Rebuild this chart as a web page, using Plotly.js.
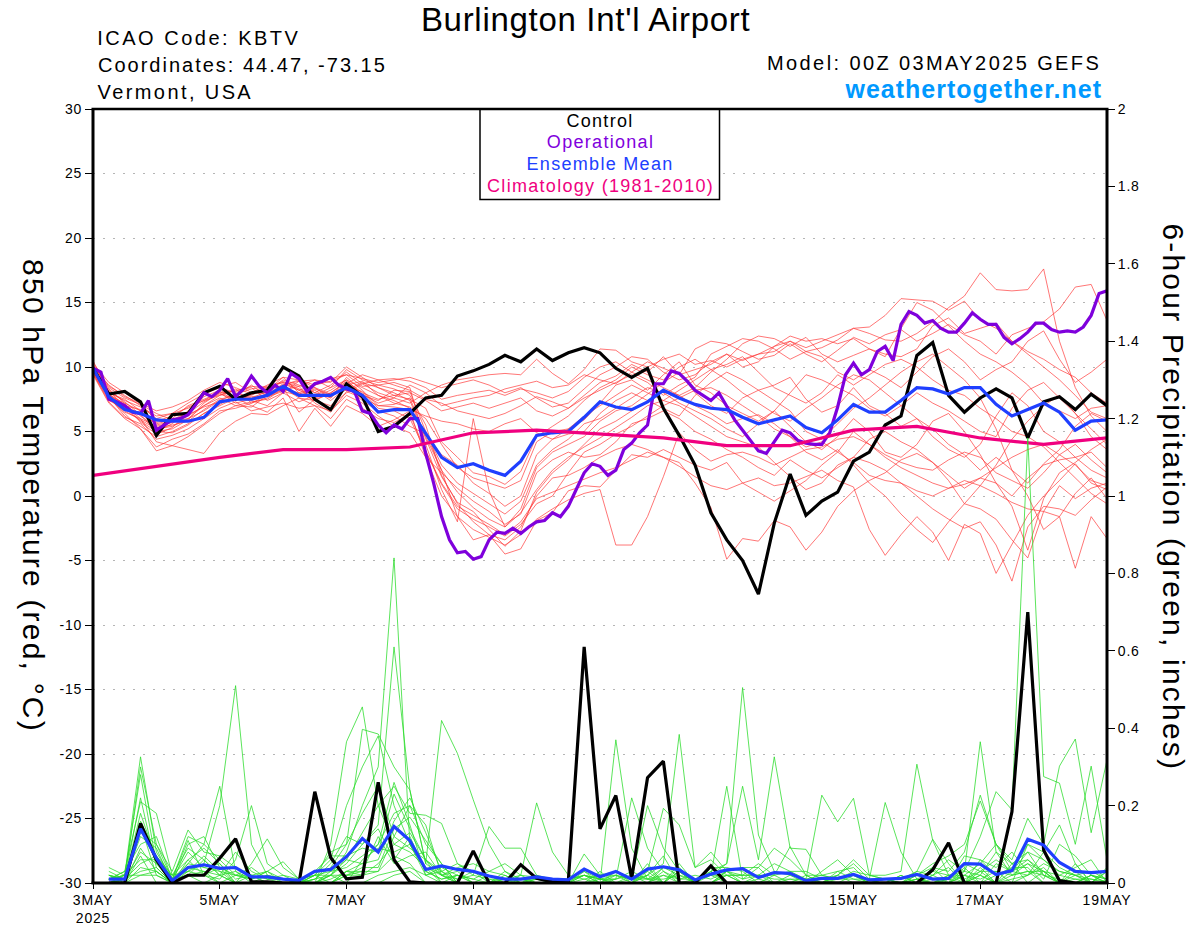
<!DOCTYPE html>
<html><head><meta charset="utf-8">
<script src="https://cdn.plot.ly/plotly-3.0.1.min.js"></script>
<style>html,body{margin:0;padding:0;background:#fff}#chart{width:1200px;height:927px}
.xtick text,.ytick text,.y2tick text{letter-spacing:.8px}
.gtitle{letter-spacing:.7px}
.annotation[data-index="0"] text{letter-spacing:2.5px}
.annotation[data-index="1"] text{letter-spacing:2px}
.annotation[data-index="2"] text{letter-spacing:2.4px}
.annotation[data-index="3"] text{letter-spacing:2.4px}
.annotation[data-index="4"] text{letter-spacing:1px}
.annotation[data-index="5"] text,.annotation[data-index="6"] text,.annotation[data-index="7"] text,.annotation[data-index="8"] text{letter-spacing:1.3px}
.annotation[data-index="9"] text,.annotation[data-index="10"] text{letter-spacing:2.2px}
</style>
</head><body><div id="chart"></div>
<script>
const control=[9.9,7.9,8.1,7.3, 4.7,6.3,6.4,8.0, 8.5,7.5,8.0,8.2, 10.0,9.3,7.5,6.7, 8.7,7.7,5.0,5.4, 6.4,7.6,7.8,9.3, 9.7,10.2,10.9,10.4, 11.4,10.5,11.1,11.5, 11.1,9.9,9.2,9.9, 6.8,4.7,2.4,-1.3, -3.4,-5.0,-7.6,-2.1, 1.7,-1.5,-0.4,0.3, 2.7,3.4,5.5,6.2, 10.9,11.9,7.8,6.5, 7.6,8.3,7.6,4.5, 7.3,7.7,6.7,7.9, 7.0];
const ensembleMean=[9.9,7.7,6.7,6.4, 5.9,5.8,5.8,6.1, 7.3,7.5,7.5,7.8, 8.5,7.8,7.8,7.8, 8.4,7.8,6.5,6.7, 6.7,4.9,3.0,2.2, 2.5,2.0,1.6,2.7, 4.7,4.9,5.0,6.1, 7.3,6.9,6.7,7.3, 8.2,7.6,7.1,6.8, 6.7,6.1,5.6,5.9, 6.2,5.3,4.9,5.9, 7.1,6.5,6.5,7.4, 8.4,8.3,7.9,8.4, 8.4,7.1,6.2,6.7, 7.2,6.5,5.1,5.8, 5.9];
const operational=[9.9,9.6,7.5,7.3,7.0,6.5,6.4,7.4, 5.1,5.5,5.9,6.0,6.3,7.1,8.0,7.7, 8.2,9.1,7.7,8.3,9.3,8.5,8.0,8.6, 8.1,9.5,9.1,8.1,8.7,8.9,9.2,8.6, 8.3,8.1,6.6,6.4,5.5,4.9,5.5,5.2, 6.0,6.0,3.3,1.0,-1.6,-3.4,-4.4,-4.3, -4.9,-4.7,-3.4,-2.8,-2.9,-2.5,-2.9,-2.4, -2.0,-1.9,-1.3,-1.6,-0.8,0.5,1.8,2.5, 2.3,1.6,2.0,3.6,4.1,4.9,5.5,8.7, 8.7,9.7,9.5,8.9,8.2,7.8,7.4,8.0, 6.9,5.9,5.1,4.3,3.5,3.3,4.2,5.1, 4.9,4.3,4.1,4.0,4.0,4.9,6.9,9.4, 10.3,9.4,9.8,11.2,11.6,10.5,13.3,14.3, 14.0,13.4,13.6,13.0,12.7,12.7,13.4,14.2, 13.7,13.3,13.3,12.3,11.8,12.2,12.7,13.4, 13.4,12.9,12.7,12.8,12.7,13.1,14.0,15.7, 15.9];
const climatology=[1.6,2.3,3.0,3.6,3.6,3.8,4.9,5.1,4.8,4.5,3.9,3.9,5.1,5.4,4.5,4.0,4.5];
const tempMembers=[
[10.5,8.0,7.5,6.6, 5.0,5.6,6.6,7.9, 8.4,8.0,7.6,8.1, 9.0,8.6,8.0,8.6, 9.6,8.7,8.0,7.6, 7.2,8.0,8.6,9.0, 9.2,9.4,9.5,9.4, 10.6,9.5,8.7,9.8, 11.4,11.3,10.4,10.0, 10.6,11.0,10.2,10.5, 10.0,10.6,11.0,11.6, 12.0,11.2,11.5,12.1, 13.0,12.6,12.1,12.0, 12.6,13.5,14.6,15.5, 17.3,16.0,15.9,16.0, 17.6,12.0,8.4,6.2, 5.0],
[9.8,7.8,7.0,6.0, 4.2,3.9,4.6,5.5, 6.4,7.0,7.3,7.5, 8.3,8.0,7.4,8.0, 8.8,7.9,7.2,7.6, 8.6,8.0,7.0,7.3, 7.6,7.8,8.3,8.6, 8.9,8.4,8.6,9.4, 9.0,8.7,9.6,10.4, 9.9,9.4,9.8,10.2, 11.0,10.5,11.0,11.2, 12.0,11.5,12.0,12.5, 13.0,13.1,14.0,15.3, 15.2,15.1,14.4,15.1, 13.6,13.0,12.0,11.0, 10.0,9.0,7.8,6.5, 6.0],
[10.0,8.6,7.7,7.2, 5.8,6.2,6.9,7.4, 8.1,7.4,8.0,8.6, 9.2,8.0,8.4,7.6, 8.7,9.4,9.0,8.6, 8.2,7.5,7.2,6.6, 6.3,6.0,6.4,7.0, 7.7,7.3,6.8,7.8, 8.8,9.3,10.2,9.6, 10.8,9.4,11.4,12.0, 11.8,11.2,10.6,10.9, 11.8,11.0,10.4,11.3, 12.3,11.8,12.5,12.9, 12.0,12.6,13.3,12.5, 12.0,11.0,12.5,13.0, 13.5,14.5,16.2,16.4, 13.6],
[9.7,7.6,6.4,5.2, 3.5,3.9,3.6,3.3, 4.9,5.8,6.4,6.3, 7.0,7.6,7.0,6.0, 7.5,6.8,6.0,5.7, 6.3,3.5,1.0,-0.8, -1.5,-2.2,-3.0,-2.0, -0.2,0.3,0.8,1.3, 1.8,2.2,2.8,3.4, 3.0,2.3,1.5,0.8, 0.5,1.0,1.4,0.8, 1.0,1.5,2.0,1.2, 0.7,-2.6,-4.6,-3.0, -1.6,-2.8,-5.0,-2.2, -2.9,-6.0,-3.8,-1.5, 0.0,1.2,2.5,1.0, 0.5],
[9.5,7.4,6.8,5.8, 5.0,4.9,5.5,6.4, 7.1,7.8,7.4,7.0, 8.0,7.3,7.8,8.4, 9.0,8.4,7.8,7.4, 6.8,4.9,2.0,0.3, -0.9,-1.8,-2.4,-1.3, 0.5,2.0,3.0,3.8, 4.5,5.3,6.1,7.0, 7.4,7.0,6.2,5.4, 4.6,4.2,3.8,2.6, 1.5,0.5,1.0,2.4, 3.0,2.6,2.0,1.0, 0.0,-1.0,-1.8,-2.5, -2.0,-3.8,-6.6,-2.4, -0.8,-1.0,-1.5,-0.3, 0.7],
[10.0,8.3,7.2,6.6, 5.5,5.8,6.0,7.0, 7.6,7.0,6.9,7.8, 8.6,9.0,8.4,7.9, 8.2,8.8,8.4,8.0, 7.4,4.5,1.5,-0.5, -1.2,-2.6,-3.9,-2.7, 0.3,1.8,2.8,4.0, 5.2,5.8,6.6,7.3, 8.2,7.8,7.0,6.4, 5.6,6.0,6.3,5.6, 4.6,3.8,4.2,3.4, 2.6,1.6,1.2,1.0, 0.4,0.0,0.6,1.2, 0.8,0.2,-0.5,-1.0, -1.2,-1.6,-5.6,-1.6, -3.3],
[9.8,7.7,6.2,5.4, 4.6,5.0,5.6,6.4, 7.0,7.6,7.0,6.5, 7.6,5.0,6.8,5.4, 7.0,6.4,5.4,5.9, 6.6,3.0,0.0,-1.6, -2.6,-3.2,-3.8,-3.0, -1.8,-1.0,-0.3,0.2, 0.5,-3.8,-3.8,-1.6, 1.5,4.9,3.6,2.7, 3.2,3.4,3.0,2.4, 3.0,3.6,3.8,4.4, 4.6,4.0,3.2,2.6, 2.2,2.0,2.8,3.4, 3.0,1.8,1.2,0.6, 1.8,3.2,4.0,2.8, 1.8],
[9.6,7.5,6.6,5.9, 5.2,5.4,6.0,6.6, 7.4,7.9,8.3,8.5, 8.8,8.2,8.6,8.9, 9.4,8.5,8.6,8.3, 7.8,5.5,1.6,-0.6, -2.0,-3.0,-3.4,-2.4, 0.0,1.4,1.6,2.2, 3.0,3.6,4.0,3.6, 3.0,2.6,1.0,-0.9, -4.9,-3.3,-3.5,-1.9, -2.4,-4.2,-2.8,-0.8, 0.4,1.2,1.8,2.8, 3.3,2.6,1.6,0.6, 1.4,2.2,3.0,3.6, 4.0,3.2,2.4,1.2, 0.8],
[9.9,8.0,7.4,6.9, 6.2,6.4,6.8,7.4, 7.8,8.2,8.4,7.4, 8.0,8.9,9.0,8.4, 9.8,9.0,8.6,8.8, 8.4,4.0,0.5,-2.0, 6.0,0.4,-2.4,-1.0, 2.2,3.4,4.0,4.6, 5.8,6.6,7.0,7.9, 8.8,9.6,8.0,7.0, 6.4,7.6,8.2,8.6, 9.2,7.5,6.5,7.0, 8.4,7.0,6.4,5.4, 6.0,5.2,4.0,3.2, 2.0,3.0,2.0,1.0, 2.5,3.6,5.4,6.4, 5.8],
[9.4,7.2,6.0,5.2, 3.8,4.4,4.8,5.6, 6.6,6.8,7.2,7.8, 8.6,8.9,8.0,7.6, 9.2,8.2,7.0,7.1, 7.6,4.6,2.0,-1.6, -3.4,-3.0,-4.5,-4.1, -1.9,-1.3,0.4,0.8, 0.7,2.0,3.2,3.0, 3.6,3.0,2.4,2.0, 2.6,1.0,0.3,-0.4, 0.4,1.2,2.4,3.4, 5.0,4.0,3.0,2.2, 1.6,1.0,0.6,0.9, 1.4,1.0,0.0,1.4, 2.4,2.8,3.0,3.4, 2.2],
[10.2,8.5,7.8,7.0, 6.0,6.4,7.2,7.9, 8.5,8.8,8.0,7.9, 8.4,7.6,7.4,7.0, 8.0,8.7,9.0,9.1, 8.9,8.4,7.5,7.8, 8.0,8.2,7.8,8.3, 8.0,7.6,8.1,9.2, 10.0,10.4,9.6,9.0, 8.4,7.8,8.4,9.6, 10.6,11.8,12.4,12.2, 11.6,12.3,11.0,10.4, 10.9,11.4,11.0,10.8, 11.4,13.2,13.8,12.6, 13.0,13.4,12.0,11.2, 10.6,9.8,9.2,8.0, 7.2],
[9.7,7.9,6.9,6.4, 5.6,5.9,6.3,6.9, 7.3,7.5,7.7,7.8, 8.2,8.5,7.2,6.5, 8.1,7.6,7.0,6.9, 6.7,6.2,5.8,5.6, 5.2,5.0,5.6,6.0, 4.9,4.4,5.2,6.2, 7.0,7.8,8.6,8.0, 7.4,8.2,9.0,9.8, 10.2,10.8,9.6,8.4, 7.8,7.2,8.0,9.4, 8.6,9.4,10.2,10.6, 10.0,9.0,8.2,7.8, 6.8,6.0,5.0,4.6, 3.8,2.6,1.4,0.2, -0.6],
[9.6,7.6,6.5,6.0, 5.4,5.7,6.2,7.0, 7.8,8.3,7.2,7.6, 8.4,6.5,7.5,7.9, 8.6,8.9,7.8,7.2, 6.9,6.0,4.0,2.2, 1.4,1.0,0.6,1.2, 4.2,5.0,5.2,5.9, 7.2,8.6,9.0,8.2, 9.4,10.4,8.6,8.0, 7.0,6.4,5.8,6.6, 5.4,4.2,3.6,4.6, 6.0,5.0,3.4,3.0, 4.0,5.8,6.4,5.0, 3.2,1.0,-0.8,-4.2, -0.2,1.8,2.6,3.6, 4.4],
[9.9,8.2,7.3,6.3, 5.0,5.2,5.9,7.2, 8.0,8.1,8.5,8.4, 8.9,8.3,7.7,8.2, 9.0,7.8,7.4,8.2, 8.1,5.0,2.4,1.0, 0.2,-0.6,-1.4,-0.4, 2.4,3.6,4.4,5.6, 6.0,6.8,7.6,8.4, 8.0,7.2,6.6,6.0, 5.2,4.6,5.6,6.6, 8.0,9.4,9.0,8.4, 7.8,6.8,6.2,7.0, 8.0,7.2,6.6,5.8, 5.0,4.6,6.8,8.2, 8.8,7.6,6.4,4.6, 3.6],
[10.1,8.4,7.6,7.1, 6.4,5.9,6.5,7.7, 8.2,7.6,7.8,8.4, 8.8,8.5,9.0,8.8, 10.0,9.2,8.4,7.8, 7.5,6.8,4.2,3.0, 1.8,1.5,0.9,1.9, 4.6,5.4,6.2,7.4, 8.4,9.0,10.0,9.4, 9.0,10.0,10.6,9.8, 9.0,8.0,7.2,6.4, 5.8,6.8,7.6,8.6, 9.4,9.0,8.0,7.0, 6.0,4.6,3.6,3.0, 4.0,6.2,8.0,7.0, 5.0,4.2,3.0,2.0, 1.4],
[9.5,7.3,6.1,5.6, 4.4,4.7,5.2,6.0, 6.8,7.3,6.6,6.9, 7.2,6.8,7.0,6.6, 7.8,7.2,6.2,5.4, 4.9,3.0,1.8,0.6, -0.4,-1.2,-2.2,-1.4, 1.8,2.8,3.4,3.0, 3.2,4.2,5.6,6.0, 6.6,6.0,5.0,4.4, 3.6,3.0,2.2,1.6, 2.8,2.0,1.4,2.2, 3.0,4.4,5.0,4.2, 3.6,2.6,1.2,-0.6, -1.0,-1.8,-3.4,-4.8, -1.2,0.8,-0.2,0.6, 1.0],
[10.3,8.8,8.0,7.2, 6.6,6.9,7.4,8.2, 8.8,8.4,7.9,8.2, 9.2,9.0,8.6,9.1, 9.4,9.1,8.8,9.0, 9.2,8.8,8.4,8.7, 9.0,8.6,8.0,8.4, 7.6,6.9,7.2,8.3, 9.4,10.0,10.8,10.6, 9.6,9.0,9.4,10.4, 11.0,10.0,10.4,11.6, 12.4,12.0,12.2,11.8, 12.2,11.4,10.8,13.0, 15.0,14.4,13.2,12.0, 11.0,10.4,9.6,8.6, 7.2,6.6,6.0,6.8, 7.0],
[9.8,7.9,7.1,6.2, 5.3,5.5,5.8,6.7, 7.5,7.8,8.6,7.7, 8.1,7.8,8.2,7.4, 8.4,7.4,6.6,6.2, 5.4,4.8,3.2,2.4, 1.0,0.2,-0.8,0.0, 3.2,4.4,4.8,5.0, 6.4,7.4,8.0,7.4, 6.8,6.2,7.8,8.8, 9.6,9.0,8.2,7.4, 6.6,5.0,4.4,5.6, 6.8,7.6,8.6,9.6, 10.4,11.0,10.0,9.0, 7.6,5.2,2.0,0.0, -2.6,-1.6,0.2,1.4, -0.2],
[10.0,8.1,7.0,6.7, 5.7,6.0,7.0,7.5, 8.0,7.2,7.5,7.9, 8.7,8.2,7.6,8.0, 8.9,8.0,7.5,7.8, 8.0,7.4,6.6,6.9, 7.2,6.8,7.2,7.6, 6.6,6.2,6.8,7.6, 8.2,8.8,9.4,8.8, 7.8,8.6,9.2,11.0, 11.6,12.2,12.0,11.4, 10.6,11.2,10.8,9.6, 9.0,9.8,9.2,8.4, 9.6,10.8,11.4,10.4, 9.0,9.8,10.4,12.0, 12.8,10.6,8.8,9.6, 10.6],
[9.9,7.8,7.2,5.7, 4.8,5.3,6.4,7.3, 7.9,7.5,7.9,8.3, 8.5,7.9,8.3,7.8, 8.5,8.1,6.8,6.6, 6.0,3.4,0.9,-1.0, -1.8,-2.4,-3.1,-2.2, -0.6,0.0,1.8,3.4, 4.0,4.8,5.4,6.2, 7.0,7.6,8.2,8.4, 7.8,7.0,6.2,5.2, 4.6,3.4,2.8,3.6, 2.4,1.0,0.0,-1.4, -2.6,-3.6,-2.0,-0.6, 0.8,2.4,4.4,5.8, 7.0,7.8,6.4,5.2, 4.0]
];
const controlPrecip=[0,0,.154,.06, 0,.02,.02,.064, .114,.003,.003,0, 0,.236,.066,.011, .015,.26,.06,.003, 0,0,0,.083, 0,0,.047,.012, .003,.004,.61,.14, .226,.012,.272,.315, 0,0,.044,0, 0,0,0,0, 0,0,0,0, 0,0,0,0, .034,.104,0,0, 0,.184,.70,.085, .006,0,0,0];
const meanPrecip=[.01,.01,.14,.064, .006,.04,.047,.038, .04,.016,.016,.01, .007,.03,.035,.068, .115,.08,.146,.11, .035,.044,.035,.03, .018,.01,.01,.016, .01,.008,.036,.016, .03,.01,.036,.042, .034,.008,.023,.034, .037,.014,.027,.025, .006,.012,.012,.022, .008,.01,.012,.022, .01,.012,.05,.049, .022,.032,.113,.098, .053,.03,.027,.03];
const precipMembers=[
[.01,.02,.326,.08, .01,.03,.05,.2, .51,.1,.02,.01, 0,.01,.02,.08, .2,.3,.84,.1, .02,.03,.05,.03, .01,0,.01,0, 0,0,.01,0, .37,.09,.01,0, 0,.01,.02,0, 0,.01,0,.01, 0,.01,0,0, 0,.01,0,.01, 0,.01,0,.02, 0,.03,.08,.02, 0,.01,0,0],
[.02,.01,.3,.1, .01,.05,.1,.06, .02,.01,.03,.01, 0,.01,.05,.12, .1,.15,.61,.24, .05,.42,.335,.215, .1,.03,.01,.01, 0,.01,.02,0, .01,.03,.01,.01, .02,0,.02,.05, .505,.124,.03,.02, .01,0,.01,.02, 0,.01,0,0, .01,0,.02,.01, .03,.02,.05,.01, .1,.07,.02,.01],
[.04,.02,.28,.05, 0,.1,.12,.04, 0,.05,.114,.04, .01,0,.1,.365, .455,.2,.1,.08, .04,.02,.04,.05, .03,.02,0,.01, 0,0,.075,.02, .02,.01,.2,.09, .03,.01,.03,.05, .25,.06,.326,.09, .087,.02,.01,.01, 0,.01,0,.01, 0,.01,.05,.03, 0,.01,.02,.05, .03,.02,.01,0],
[.01,.03,.21,.18, .02,.03,.02,.01, .06,.2,.05,.02, 0,.02,.08,.1, .397,.385,.3,.24, .05,.02,.01,.03, 0,.01,.02,.015, .01,0,.02,.01, .01,.22,.09,.03, .01,.02,.01,.03, .01,.02,.01,.01, .01,.227,.158,.219, .02,.01,0,.01, .03,.02,.02,.05, .1,.05,.06,.03, .02,.01,.01,.005],
[.03,.01,.16,.07, .01,.12,.1,.25, .03,.01,.03,.055, .01,.02,.03,.06, .13,.2,.25,.18, .175,.154,.05,.02, .146,.09,.09,.02, .01,.01,.02,.01, .02,.01,.03,.193, .15,.04,.08,.03, .02,.02,.02,.094, .02,.02,.03,.01, .01,.208,.08,.01, 0,.02,.01,.03, .06,.03,.1,.08, .04,.02,.03,.01],
[.01,.02,.13,.1, .03,.137,.08,.07, .04,.02,.01,.02, .01,.02,.06,.2, .3,.38,.2,.1, .03,.01,.02,.01, .03,.05,.02,.207, .08,.02,.01,.02, .03,.01,.02,.05, .384,.04,.06,.02, .02,.05,.02,.03, .01,.02,.01,.03, .02,.02,.03,.307, .11,.02,.03,.365, .08,.02,.03,.02, .01,0,.02,.01],
[.02,.01,.18,.06, .01,.02,.06,.02, .08,.03,.01,.01, 0,.01,.04,.1, .18,.25,.12,.09, .06,.03,.01,.02, .01,.01,0,.01, .01,.01,.03,.01, .01,.02,.01,.04, .02,.01,.02,.25, .01,.04,.09,.06, .02,0,.02,.05, .01,.01,0,.02, .05,.07,.1,.212, .1,.06,.167,.1, .302,.372,.13,.318],
[.01,.03,.1,.12, .01,.08,.04,.03, .02,.01,.02,.01, 0,.02,.02,.05, .1,.14,.06,.12, .03,.01,.02,.01, 0,.01,.01,0, 0,.005,.02,.01, 0,.01,.01,.02, .01,.01,.02,.02, .02,.02,.05,.03, .03,.01,.02,.06, .02,.01,.01,.03, .02,.06,.03,.12, .236,.189,1.15,.275, .258,.1,.302,.06],
[.02,.01,.08,.05, .02,.06,.09,.05, .01,.02,.03,0, 0,0,.01,.03, .05,.1,.26,.15, .02,.04,.02,0, 0,.02,0,0, 0,0,0,.01, 0,.02,0,0, .04,0,.04,.04, .03,0,0,.02, 0,.03,.06,.02, 0,0,0,.02, .04,.03,.08,.227, .1,.03,.02,.08, .15,.05,0,.04],
[.01,.02,.06,.06, .01,.11,.02,.04, .02,.04,.01,0, 0,.03,.07,.07, .09,.08,.23,.14, .06,.02,.03,0, 0,.03,0,0, 0,0,0,0, .02,0,.02,.07, 0,0,0,.03, .04,.04,0,0, .02,0,.03,.04, 0,0,0,.03, .113,.05,0,.04, 0,.05,.08,.06, .02,.04,.06,0],
[0,.01,.05,.07, .02,.09,.06,.02, .03,0,.02,0, 0,0,.03,.04, .07,.1,.18,.2, .1,.05,0,0, 0,0,0,.02, 0,0,0,.03, 0,0,.05,0, .03,0,0,.02, 0,0,.02,0, 0,0,0,0, 0,0,.02,0, 0,0,.04,0, .05,.03,.05,.03, 0,.05,0,0],
[0,0,.04,.03, 0,.05,.04,.05, 0,0,0,0, 0,0,.02,.06, .05,.06,.16,.22, .13,.03,0,0, 0,0,.02,0, 0,0,.03,0, 0,0,.04,0, .05,0,0,.03, 0,0,0,0, 0,0,0,0, 0,0,0,0, .02,0,0,.02, .08,.05,0,.03, 0,.03,0,.03],
[.01,.01,.03,.04, 0,.03,.07,.03, 0,.02,0,0, 0,.02,0,.02, .04,.04,.14,.17, .11,.05,0,0, 0,0,0,0, 0,0,0,0, .03,0,0,.04, .03,0,.04,0, 0,0,0,0, 0,0,.02,0, 0,0,0,0, 0,0,.07,.06, .04,.08,.03,0, 0,0,0,.03],
[0,.02,.02,.02, 0,.02,.03,.02, 0,0,0,0, 0,0,0,.03, .03,.03,.12,.2, .15,.02,0,0, .02,0,0,0, 0,0,0,0, 0,0,.02,0, .03,0,0,.02, 0,0,0,0, 0,0,0,.02, 0,0,0,0, .02,.04,0,.03, .03,0,.1,.06, .03,.02,0,0],
[.02,0,.02,.03, 0,0,0,0, 0,0,0,0, 0,0,.02,.02, .02,.05,.1,.13, .06,0,.02,0, 0,0,0,0, 0,0,0,0, 0,0,0,.02, 0,0,0,0, 0,0,0,0, 0,0,0,0, 0,0,0,0, 0,0,.02,0, .02,.03,.06,.02, 0,0,.02,0],
[.01,.01,.12,.09, 0,.04,.03,0, .02,.02,0,0, 0,0,.02,0, .06,.09,.08,.1, .04,0,0,0, 0,0,0,0, 0,0,.02,0, 0,0,.03,0, 0,0,.03,0, 0,.02,0,0, 0,0,0,0, 0,0,.02,0, .04,0,0,.06, .02,.04,.04,0, 0,0,.02,0],
[0,.01,.22,.04, 0,.06,.02,0, 0,0,0,0, 0,0,0,.02, .03,.12,.05,.07, .08,.02,0,0, 0,0,0,0, 0,0,0,0, 0,0,0,.03, 0,0,0,0, 0,0,0,0, 0,0,0,0, 0,0,0,0, 0,0,.03,.02, 0,.02,.03,.03, 0,.02,0,0],
[.01,0,.09,.03, 0,.02,0,0, 0,0,0,0, 0,0,0,0, 0,.02,.03,.04, .02,0,0,0, 0,0,0,0, 0,0,0,0, 0,0,0,0, 0,0,0,0, 0,0,0,0, 0,0,0,0, 0,0,0,0, 0,.02,0,0, 0,0,.02,.04, 0,0,0,0],
[0,.01,.15,.02, 0,0,0,.02, 0,0,0,0, 0,0,0,.03, .02,.03,.07,.05, 0,0,0,0, 0,0,0,0, 0,0,0,0, 0,0,0,0, 0,0,0,0, 0,0,0,0, 0,0,0,0, 0,0,0,0, 0,0,0,0, 0,0,0,0],
[0,0,.07,0, 0,0,0,0, 0,0,0,0, 0,0,0,0, 0,0,.02,.03, 0,0,0,0, 0,0,0,0, 0,0,0,0, 0,0,0,0, 0,0,0,0, 0,0,0,0, 0,0,0,0, 0,0,0,0, 0,0,0,0, 0,0,0,0]
];
const xTickHours=[0,48,96,144,192,240,288,336,384];
const xTickLabels=["3MAY<br>2025","5MAY","7MAY","9MAY","11MAY","13MAY","15MAY","17MAY","19MAY"];
const tempTicks=[30,25,20,15,10,5,0,-5,-10,-15,-20,-25,-30];
const precipTicks=[0,0.2,0.4,0.6,0.8,1,1.2,1.4,1.6,1.8,2];

const FONT="Liberation Sans, Arial, sans-serif";
const L=93,R=1107,T=109,B=883;
const hoursAt=(n,step,start=0)=>Array.from({length:n},(_,i)=>start+i*step);
const px=x=>(x-L)/(R-L), py=y=>(B-y)/(B-T);
const traces=[];
const thin=(color)=>({color,width:0.9});
precipMembers.forEach(v=>traces.push({x:hoursAt(v.length,6,6),y:v,yaxis:'y2',mode:'lines',line:thin('rgba(40,220,40,0.85)'),hoverinfo:'skip'}));
tempMembers.forEach(v=>traces.push({x:hoursAt(v.length,6),y:v,mode:'lines',line:thin('rgba(255,50,50,0.75)'),hoverinfo:'skip'}));
const thick=(color)=>({color,width:3.2});
traces.push({name:'Control',x:hoursAt(control.length,6),y:control,mode:'lines',line:thick('#000')});
traces.push({name:'Operational',x:hoursAt(operational.length,3),y:operational,mode:'lines',line:thick('#7f00dc')});
traces.push({name:'Ensemble Mean',x:hoursAt(ensembleMean.length,6),y:ensembleMean,mode:'lines',line:thick('#1f3fff')});
traces.push({name:'Climatology (1981-2010)',x:hoursAt(climatology.length,24),y:climatology,mode:'lines',line:thick('#f0007f')});
traces.push({name:'Control precip',x:hoursAt(controlPrecip.length,6,6),y:controlPrecip,yaxis:'y2',mode:'lines',line:thick('#000')});
traces.push({name:'Mean precip',x:hoursAt(meanPrecip.length,6,6),y:meanPrecip,yaxis:'y2',mode:'lines',line:thick('#1f3fff')});

const ann=(text,x,y,size,color,extra)=>Object.assign({text,xref:'paper',yref:'paper',x:px(x),y:py(y),xanchor:'center',yanchor:'middle',showarrow:false,font:{family:FONT,size,color}},extra||{});
const annotations=[
 ann('ICAO Code: KBTV',198.5,38,20,'#000'),
 ann('Coordinates: 44.47, -73.15',242,65,20,'#000'),
 ann('Vermont, USA',175.5,92,20,'#000'),
 ann('Model: 00Z 03MAY2025 GEFS',934,63,20,'#000'),
 ann('<b>weathertogether.net</b>',973,89,25,'#0099ff'),
 ann('Control',600,121,18,'#000'),
 ann('Operational',600,142,18,'#8000dd'),
 ann('Ensemble Mean',600,164,18,'#2040ff'),
 ann('Climatology (1981-2010)',600,186,18,'#f00080'),
 ann('850 hPa Temperature (red, °C)',34,496,30,'#000',{textangle:90}),
 ann('6-hour Precipitation (green, inches)',1173,497,30,'#000',{textangle:90})
];
const frame=(x0,y0,x1,y1,w)=>({type:'line',xref:'paper',yref:'paper',x0:px(x0),y0:py(y0),x1:px(x1),y1:py(y1),line:{color:'#000',width:w},layer:'above'});
const layout={
 width:1200,height:927,showlegend:false,paper_bgcolor:'#fff',plot_bgcolor:'#fff',
 margin:{l:L,r:1200-R,t:T,b:927-B,pad:0},
 title:{text:"Burlington Int'l Airport",x:583/1200,xanchor:'center',xref:'paper',y:1-19/927,yanchor:'middle',font:{family:FONT,size:33,color:'#000'}},
 font:{family:FONT,size:14,color:'#000'},
 xaxis:{range:[0,384],tickmode:'array',tickvals:xTickHours,ticktext:xTickLabels,ticks:'outside',ticklen:5,tickwidth:1,tickcolor:'#000',ticklabelstandoff:-1,showgrid:false,zeroline:false,showline:false,tickfont:{family:FONT,size:14,color:'#000'},fixedrange:true},
 yaxis:{range:[-30,30],tickmode:'array',tickvals:tempTicks,ticktext:tempTicks.map(String),ticks:'outside',ticklen:7,tickwidth:1,tickcolor:'#000',showgrid:true,gridcolor:'#b5b5b5',griddash:'2px,8px',gridwidth:1,zeroline:false,showline:false,tickfont:{family:FONT,size:14,color:'#000'},fixedrange:true},
 yaxis2:{range:[0,2],overlaying:'y',side:'right',tickmode:'array',tickvals:precipTicks,ticktext:precipTicks.map(String),ticks:'outside',ticklen:7,tickwidth:1,tickcolor:'#000',showgrid:false,zeroline:false,showline:false,tickfont:{family:FONT,size:14,color:'#000'},fixedrange:true},
 shapes:[
  {type:'rect',xref:'paper',yref:'paper',x0:px(480),x1:px(719.5),y0:py(199.5),y1:py(109),fillcolor:'#fff',line:{color:'#000',width:1.5},layer:'above'},
  frame(93,109,93,883,3),frame(1107,109,1107,883,3),frame(91.5,109,1108.5,109,2.5),frame(91.5,883,1108.5,883,3)
 ],
 annotations
};
Plotly.newPlot('chart',traces,layout,{displayModeBar:false,staticPlot:true});
</script></body></html>
